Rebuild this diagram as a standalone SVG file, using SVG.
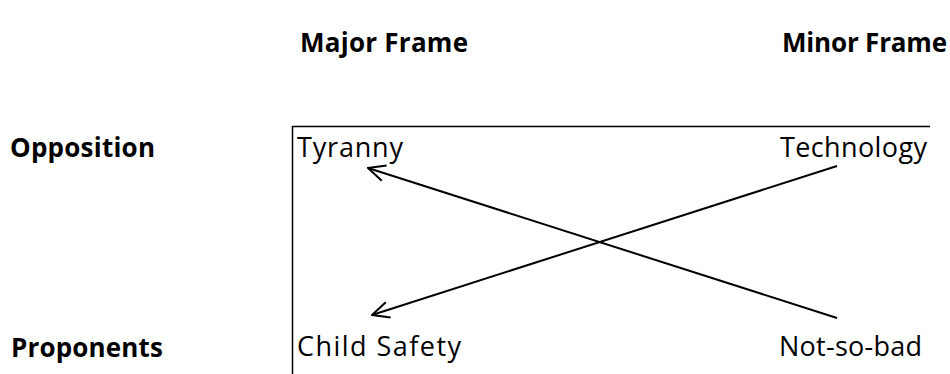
<svg xmlns="http://www.w3.org/2000/svg" width="950" height="374" viewBox="0 0 950 374">
  <style>
    .lbl { font-family: "Open Sans", "Liberation Sans", sans-serif; font-size: 27px; fill: #000; }
    .hdr { font-family: "Open Sans", "Liberation Sans", sans-serif; font-size: 26px; font-weight: bold; fill: #000; }
    .frame { stroke: #000; stroke-width: 1.5; fill: none; }
    .arrow { stroke: #000; stroke-width: 2; fill: none; marker-end: url(#open); }
  </style>
  <defs>
    <marker id="open" viewBox="0 0 20 20" refX="19" refY="10" markerWidth="20" markerHeight="20" markerUnits="userSpaceOnUse" orient="auto">
      <path d="M2,2 L19,10 L2,18" fill="none" stroke="#000" stroke-width="2"/>
    </marker>
  </defs>

  <rect width="950" height="374" fill="#fff"/>

  <!-- column headings -->
  <g id="major-frame"><text class="hdr" x="300" y="52" textLength="168">Major Frame</text></g>
  <g id="minor-frame"><text class="hdr" x="782" y="52" textLength="165">Minor Frame</text></g>

  <!-- row headings -->
  <g id="opposition"><text class="hdr" x="10" y="157" textLength="145">Opposition</text></g>
  <g id="proponents"><text class="hdr" x="11" y="357" textLength="152">Proponents</text></g>

  <!-- frame border -->
  <g id="frame">
    <path class="frame" d="M292.5,374 L292.5,126.5 L930,126.5"/>
  </g>

  <!-- cells -->
  <g id="tyranny"><text class="lbl" x="297" y="157" textLength="106">Tyranny</text></g>
  <g id="technology"><text class="lbl" x="780" y="157" textLength="147">Technology</text></g>
  <g id="child-safety"><text class="lbl" x="297" y="356" textLength="164">Child Safety</text></g>
  <g id="not-so-bad"><text class="lbl" x="779" y="356" textLength="143">Not-so-bad</text></g>

  <!-- connectors -->
  <g id="connectors">
    <line class="arrow" x1="837" y1="166" x2="372" y2="315"/>
    <line class="arrow" x1="837" y1="318" x2="368" y2="168"/>
  </g>
</svg>
